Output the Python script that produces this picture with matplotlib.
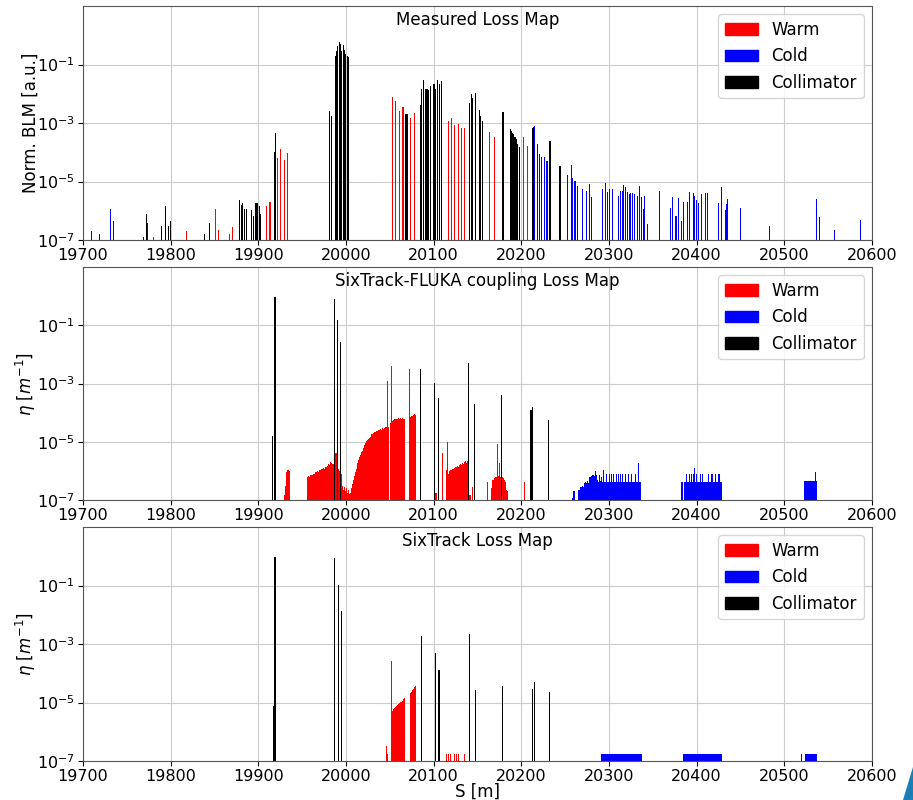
import numpy as np
import matplotlib
matplotlib.use("Agg")
import matplotlib.pyplot as plt
from matplotlib.patches import Patch, Polygon

# ---------------- Measured loss map ----------------
meas_warm_s = [19780.5, 19818, 19851.4, 19855, 19866.6, 19870, 19909.5, 19913.3,
               19922.4, 19925.8, 19929.6, 19933.8, 20053.3, 20057, 20061.3, 20065,
               20073.4, 20077.6, 20116.7, 20120.5, 20124.3, 20128.1, 20131.9, 20135.7,
               20163.8, 20169.2, 20202.7, 20207.2]
meas_warm_v = [1.26e-7, 2e-7, 1.15e-6, 2.2e-7, 1.6e-7, 2.75e-7, 1.45e-6, 2e-6,
               6.6e-5, 1.33e-4, 5.5e-5, 9.8e-5, 7.9e-3, 5.6e-3, 2.6e-3, 3.6e-3,
               1.5e-3, 2.2e-3, 1.17e-3, 1.45e-3, 8.5e-4, 8.9e-4, 6.6e-4, 6.6e-4,
               4.9e-4, 3.3e-4, 3.3e-4, 1.7e-4]

meas_coll_s = [19772.5, 19789.6, 19794, 19797, 19799.4, 19839, 19844, 19878.4,
               19880.6, 19882, 19883.7, 19886, 19892.4, 19894.3, 19897, 19898.5,
               19900.8, 19902.7, 19918.2, 19919.7, 19981.6, 19983.5, 19987.7, 19989.2,
               19990.7, 19992.2, 19993.7, 19995.3, 19996.8, 19998.3, 19999.8, 20001.4,
               20002.9, 20068.1, 20069.6, 20084.8, 20086.3, 20088.6, 20090.2, 20092.4,
               20094.3, 20096.6, 20100.4, 20102.3, 20104.5, 20106.5, 20108.4, 20141,
               20143.2, 20144.8, 20147.8, 20152.4, 20153.9, 20155.8, 20179.1, 20187.4,
               20188.6, 20189.7, 20190.9, 20192.8, 20194.3, 20195.8, 20197.7, 20212.6,
               20213.7, 20232.7, 20244.1]
meas_coll_v = [7.8e-7, 3e-7, 1.4e-6, 3e-7, 4.4e-7, 1.6e-7, 3.7e-7, 2.3e-6,
               1.6e-6, 1.8e-6, 1.15e-6, 1.15e-6, 1.07e-6, 6.8e-7, 1.8e-6, 1.8e-6,
               1.4e-6, 7.8e-7, 1.0e-4, 4.7e-4, 2.5e-3, 1.8e-3, 0.20, 0.285,
               0.42, 0.59, 0.50, 0.30, 0.46, 0.32, 0.23, 0.19,
               0.18, 2.0e-3, 2.1e-3, 4.0e-3, 1.45e-2, 2.95e-2, 1.5e-2, 1.4e-2,
               1.3e-2, 1.9e-2, 2.2e-2, 1.5e-2, 3.0e-2, 2.2e-2, 2.7e-2, 4.9e-3,
               9.5e-3, 7.2e-3, 1.07e-2, 2.7e-3, 1.7e-3, 1.2e-3, 2.4e-3, 6.0e-4,
               5.4e-4, 4.7e-4, 4.1e-4, 3.2e-4, 2.75e-4, 1.9e-4, 1.55e-4, 6.6e-4,
               7.2e-4, 2.45e-4, 3.4e-5]

meas_cold_s = [19709.9, 19719, 19731.5, 19735, 19769, 19774, 20214.8, 20218.6,
               20220.5, 20222.5, 20226.3, 20229.3, 20252.9, 20256.7, 20258.6, 20260.5,
               20261.6, 20263.9, 20269.3, 20273.8, 20278, 20279.5, 20292.5, 20295.9,
               20297.8, 20300.1, 20303.5, 20310.7, 20313.4, 20315.3, 20316.8, 20318.3,
               20320.6, 20323.3, 20324.8, 20326.7, 20329.4, 20332, 20335.1, 20337,
               20339.3, 20340.8, 20343.5, 20357.9, 20369.7, 20372, 20375.4, 20377.3,
               20379.6, 20382.6, 20384.9, 20389.9, 20391.8, 20396.7, 20397.9, 20399.8,
               20402.1, 20405.1, 20409.7, 20412.7, 20425.3, 20427.9, 20432.5, 20433.6,
               20435.5, 20449.6, 20482.7, 20536.4, 20539.8, 20556.9, 20587]
meas_cold_v = [2e-7, 1.6e-7, 1.15e-6, 4.4e-7, 1.26e-7, 3.9e-7, 7.8e-4, 1.9e-4,
               8.5e-5, 6.9e-5, 6.9e-5, 5e-5, 1.7e-5, 3.7e-5, 1.33e-5, 1.05e-5,
               1.05e-5, 7.1e-6, 5.5e-6, 4.8e-6, 8.3e-6, 3e-6, 5.5e-6, 8.7e-6,
               4.5e-6, 5.5e-6, 5.5e-6, 3.2e-6, 4.8e-6, 4.8e-6, 7.5e-6, 6.3e-6,
               4.5e-6, 3.7e-6, 4e-6, 4e-6, 3.7e-6, 3.2e-6, 6.9e-6, 3e-6,
               1.15e-6, 3.3e-6, 3.5e-7, 4.7e-6, 1.23e-6, 3e-6, 6.8e-7, 6.8e-7,
               2.7e-6, 4.6e-7, 2e-6, 2e-6, 4.5e-6, 4.2e-6, 3.2e-6, 2.3e-6,
               1.9e-6, 3.7e-6, 4.2e-6, 3.9e-6, 1.85e-6, 6.6e-6, 1.07e-6, 1.7e-6,
               2.6e-6, 1.23e-6, 3e-7, 2.6e-6, 6.3e-7, 2.2e-7, 4.9e-7]

# ---------------- SixTrack-FLUKA coupling loss map (1 m bins) ----------------
fl_coll_s = [19916.3, 19919, 19986.5, 19990.3, 19994.1, 20085.2, 20101.1, 20105.3,
             20139.8, 20146.7, 20177.5, 20211, 20212.9, 20230.8]
fl_coll_v = [1.6e-5, 0.93, 0.81, 0.15, 0.027, 3.2e-3, 1.05e-3, 3.3e-4,
             4.9e-3, 2e-4, 4.1e-4, 1.26e-4, 1.55e-4, 5.4e-5]

fl_warm_a_s0 = 19929
fl_warm_a = [1.5e-7, 3e-7, 6e-7, 9e-7, 1.05e-6, 1.05e-6, 1e-6]
fl_warm_b_s0 = 19955
fl_warm_b = [5.5e-7, 6e-7, 6.5e-7, 6e-7, 7e-7, 7.5e-7, 7e-7, 8e-7, 8.5e-7, 8e-7,
             9e-7, 9.5e-7, 1e-6, 9e-7, 1.05e-6, 1.1e-6, 1.1e-6, 1.15e-6, 1.2e-6, 1.25e-6,
             1.2e-6, 1.35e-6, 1.4e-6, 1.5e-6, 1.45e-6, 1.7e-6, 1.6e-6, 2e-6, 1.8e-6, 1.7e-6,
             1.75e-6, 4.5e-6, 4.5e-6, 4.2e-6, 4e-6, 1.5e-6, 1.2e-6, 1e-6, 1e-6, 8e-7,
             2.5e-7, 3e-7, 2.2e-7, 2.8e-7, 2e-7, 2.5e-7, 1.8e-7, 2.2e-7, 1.6e-7]
fl_warm_c_s0 = 20004
fl_warm_c = [1.3e-7, 1.8e-7, 2.5e-7, 3.5e-7, 5e-7, 6.8e-7, 9e-7, 1.2e-6, 1.5e-6, 1.9e-6,
             2.4e-6, 3e-6, 3.5e-6, 4.3e-6, 5e-6, 5.9e-6, 6.9e-6, 7.9e-6, 9.1e-6, 1.02e-5,
             1.15e-5, 1.26e-5, 1.38e-5, 1.5e-5, 1.66e-5, 1.78e-5, 1.9e-5, 1.95e-5, 2.1e-5, 2.2e-5,
             2.25e-5, 2.4e-5, 2.35e-5, 2.57e-5, 2.5e-5, 2.7e-5, 2.6e-5, 2.9e-5, 2.8e-5, 3e-5,
             2.9e-5, 3.2e-5, 3.1e-5, 3.3e-5, 3.3e-5]
fl_warm_d_s0 = 20050
fl_warm_d = [4.4e-5, 4.6e-5, 4.9e-5, 5.2e-5, 5.6e-5, 6e-5, 6.1e-5, 6.2e-5, 6.1e-5, 6.3e-5,
             6.2e-5, 6.2e-5, 6.4e-5, 6.2e-5, 6.3e-5, 6.2e-5, 6.2e-5]
fl_warm_e_s0 = 20072
fl_warm_e = [7e-5, 7.3e-5, 7.6e-5, 7.8e-5, 8e-5, 8.3e-5, 8.7e-5, 8.5e-5]
fl_warm_f_s0 = 20114
fl_warm_f = [1.1e-6, 9e-7, 8e-7, 9e-7, 1e-6, 1.05e-6, 1.1e-6, 1.2e-6, 1.15e-6, 1.3e-6,
             1.35e-6, 1.25e-6, 1.4e-6, 1.5e-6, 1.4e-6, 1.6e-6, 1.7e-6, 1.6e-6, 1.8e-6, 1.9e-6,
             1.7e-6, 2e-6, 2.1e-6, 1.9e-6, 2.2e-6]
fl_warm_g_s0 = 20161
fl_warm_g = [4.3e-7, 0, 0, 0, 2.5e-7, 2.5e-7, 4.8e-7, 4.8e-7, 5.5e-7, 6.3e-7,
             6.3e-7, 7e-7, 6.5e-7, 6.3e-7, 1.8e-6, 6.3e-7, 6e-7, 6e-7, 5.5e-7, 5e-7,
             4e-7, 2.2e-7, 2.2e-7, 2e-7]
fl_warm_spike_s = [20045.5, 20047, 20052, 20072.5, 20102, 20103, 20110, 20115.6,
                   20141, 20142, 20144, 20173, 20201.8, 20203.6]
fl_warm_spike_v = [6.3e-4, 1.26e-3, 4.1e-3, 3.2e-3, 1.7e-7, 1.7e-7, 4e-6, 1e-5,
                   1.5e-7, 1.5e-7, 2.8e-7, 8.5e-6, 2.6e-6, 4e-7]

fl_cold_a_s0 = 20258
fl_cold_a = [1.2e-7, 2e-7, 2e-7, 0, 0, 0, 0, 2.2e-7, 2.2e-7, 2.9e-7,
             2.9e-7, 3e-7, 2.8e-7, 3.5e-7, 3.9e-7, 4e-7, 3.9e-7, 4.5e-7, 3.9e-7, 6e-7,
             6.3e-7, 7e-7, 6.5e-7, 7e-7, 7.5e-7, 6.5e-7, 1e-6, 7e-7, 5e-7, 6e-7,
             4.3e-7, 7e-7, 4.5e-7, 6e-7, 4.3e-7, 1.1e-6, 4.3e-7, 8e-7, 4.3e-7, 8e-7,
             4.3e-7, 4.3e-7, 8e-7, 4.3e-7, 8e-7, 4.3e-7, 4.3e-7, 8e-7, 4.3e-7, 4.3e-7,
             8e-7, 4.3e-7, 8e-7, 4.3e-7, 4.3e-7, 8e-7, 4.3e-7, 8e-7, 4.3e-7, 4.3e-7,
             8e-7, 4.3e-7, 8e-7, 4.3e-7, 8e-7, 4.3e-7, 4.3e-7, 8e-7, 4.3e-7, 4.3e-7,
             8e-7, 4.3e-7, 8e-7, 4.3e-7, 4.3e-7, 1.8e-6, 4.3e-7, 4.3e-7, 4.3e-7]
fl_cold_b_s0 = 20382
fl_cold_b = [4.3e-7, 4.3e-7, 0, 0, 4.3e-7, 4.3e-7, 8e-7, 4.3e-7, 4.3e-7, 8e-7,
             4.3e-7, 4.3e-7, 8e-7, 4.3e-7, 8e-7, 1.3e-6, 4.3e-7, 8e-7, 4.3e-7, 9e-7,
             4.3e-7, 4.3e-7, 8e-7, 4.3e-7, 8e-7, 4.3e-7, 4.3e-7, 8e-7, 4.3e-7, 4.3e-7,
             4.3e-7, 8e-7, 4.3e-7, 4.3e-7, 8e-7, 4.3e-7, 8e-7, 4.3e-7, 4.3e-7, 8e-7,
             4.3e-7, 4.3e-7, 8e-7, 4.3e-7, 8e-7, 4.3e-7, 4.3e-7]
fl_cold_c_s0 = 20522
fl_cold_c = [4.5e-7, 4.5e-7, 4.5e-7, 4.5e-7, 4.5e-7, 4.5e-7, 4.5e-7, 4.5e-7,
             4.5e-7, 4.5e-7, 4.5e-7, 4.5e-7, 4.5e-7, 9e-7, 4.5e-7]

# ---------------- SixTrack loss map ----------------
st_coll_s = [19917.5, 19919, 19987.3, 19991.1, 19995.3, 20086.3, 20102.3, 20106.1,
             20141, 20147.8, 20178.7, 20212.2, 20214.5, 20231.6]
st_coll_v = [7.5e-6, 0.97, 0.85, 0.105, 0.0138, 1.86e-3, 5e-4, 1.26e-4,
             2.2e-3, 2.6e-5, 3.6e-5, 2.95e-5, 5e-5, 2.2e-5]

st_warm_a_s0 = 20051
st_warm_a = [4.2e-6, 4.6e-6, 5e-6, 6e-6, 6.6e-6, 7.2e-6, 7.8e-6, 8.4e-6, 8.8e-6, 9.2e-6,
             9.8e-6, 1.03e-5, 1.07e-5, 1.15e-5, 1.3e-5, 1.45e-5]
st_warm_b_s0 = 20073
st_warm_b = [2.1e-5, 2.3e-5, 2.6e-5, 2.8e-5, 3.1e-5, 3.4e-5, 3.7e-5]
st_warm_spike_s = [20046, 20047, 20048, 20052, 20072, 20114, 20115, 20117, 20119,
                   20121, 20122, 20124, 20126, 20128, 20135]
st_warm_spike_v = [3.2e-7, 1.7e-7, 1.7e-7, 2.6e-4, 8.9e-4, 3.2e-7, 1.7e-7, 1.7e-7, 1.7e-7,
                   1.7e-7, 1.7e-7, 1.7e-7, 1.7e-7, 1.7e-7, 1.7e-7]

st_cold_start = [20290.6, 20384.9, 20519.4, 20523.8]
st_cold_end = [20337.4, 20428.7, 20520.4, 20537.1]
st_cold_v = [1.7e-7, 1.7e-7, 1.7e-7, 1.7e-7]

titles = ["Measured Loss Map", "SixTrack-FLUKA coupling Loss Map", "SixTrack Loss Map"]
ylabels = ["Norm. BLM [a.u.]", r"$\eta$ [$m^{-1}$]", r"$\eta$ [$m^{-1}$]"]
xticks = [19700, 19800, 19900, 20000, 20100, 20200, 20300, 20400, 20500, 20600]
yticks = [1e-7, 1e-5, 1e-3, 1e-1]

RED, BLUE, BLACK = "#ff0000", "#0000ff", "#000000"

plt.rcParams["font.family"] = ["DejaVu Sans"]
fig = plt.figure(figsize=(9.13, 8), dpi=100)
W = 913.0
H = 800.0
left, right = 83 / W, 872 / W
tops = [6, 267, 527]
bots = [240, 500, 761]
axes = []
for t, b in zip(tops, bots):
    axes.append(fig.add_axes([left, 1 - b / H, right - left, (b - t) / H]))


def bins(ax, s0, vals, color, width=1.0):
    v = np.asarray(vals, dtype=float)
    s = s0 + np.arange(len(v))
    m = v > 0
    ax.bar(s[m], v[m], width=width, align="edge", color=color, linewidth=0)


def sticks(ax, s, v, color, width=1.2):
    ax.bar(s, v, width=width, align="center", color=color, linewidth=0)


ax = axes[0]
sticks(ax, meas_warm_s, meas_warm_v, RED)
sticks(ax, meas_cold_s, meas_cold_v, BLUE)
sticks(ax, meas_coll_s, meas_coll_v, BLACK)

ax = axes[1]
for s0, vals in [(fl_warm_a_s0, fl_warm_a), (fl_warm_b_s0, fl_warm_b), (fl_warm_c_s0, fl_warm_c),
                 (fl_warm_d_s0, fl_warm_d), (fl_warm_e_s0, fl_warm_e), (fl_warm_f_s0, fl_warm_f),
                 (fl_warm_g_s0, fl_warm_g)]:
    bins(ax, s0, vals, RED)
sticks(ax, fl_warm_spike_s, fl_warm_spike_v, RED, width=0.8)
for s0, vals in [(fl_cold_a_s0, fl_cold_a), (fl_cold_b_s0, fl_cold_b), (fl_cold_c_s0, fl_cold_c)]:
    bins(ax, s0, vals, BLUE)
sticks(ax, fl_coll_s, fl_coll_v, BLACK)

ax = axes[2]
bins(ax, st_warm_a_s0, st_warm_a, RED)
bins(ax, st_warm_b_s0, st_warm_b, RED)
sticks(ax, st_warm_spike_s, st_warm_spike_v, RED, width=0.8)
ax.bar(st_cold_start, st_cold_v, width=np.array(st_cold_end) - np.array(st_cold_start),
       align="edge", color=BLUE, linewidth=0)
sticks(ax, st_coll_s, st_coll_v, BLACK)

handles = [Patch(color=RED, label="Warm"), Patch(color=BLUE, label="Cold"),
           Patch(color=BLACK, label="Collimator")]

for i, (ax, title, yl) in enumerate(zip(axes, titles, ylabels)):
    ax.set_yscale("log")
    ax.set_ylim(1e-7, 10)
    ax.set_xlim(19700, 20600)
    ax.set_xticks(xticks)
    ax.set_xticklabels([str(x) for x in xticks])
    ax.set_yticks(yticks)
    ax.yaxis.set_minor_locator(matplotlib.ticker.NullLocator())
    ax.tick_params(labelsize=11.5, pad=2.5)
    ax.set_axisbelow(True)
    ax.grid(True, color="#cccccc", linewidth=0.8)
    for sp in ax.spines.values():
        sp.set_color("#555555")
    ax.text(0.5, 0.94, title, transform=ax.transAxes, ha="center", va="center", fontsize=12)
    ax.set_ylabel(yl, fontsize=12, labelpad=(-2 if i == 0 else -1))
    ax.legend(handles=handles, loc="upper right", fontsize=12)

axes[2].set_xlabel("S [m]", fontsize=12, labelpad=-1)

# cropped logo corner at bottom right
fig.patches.append(Polygon([(903 / W, 0), (913 / W, 33 / H), (913 / W, 0)], closed=True,
                           transform=fig.transFigure, facecolor="#1b7fb5", edgecolor="none"))

fig.savefig("out.png", dpi=100)
